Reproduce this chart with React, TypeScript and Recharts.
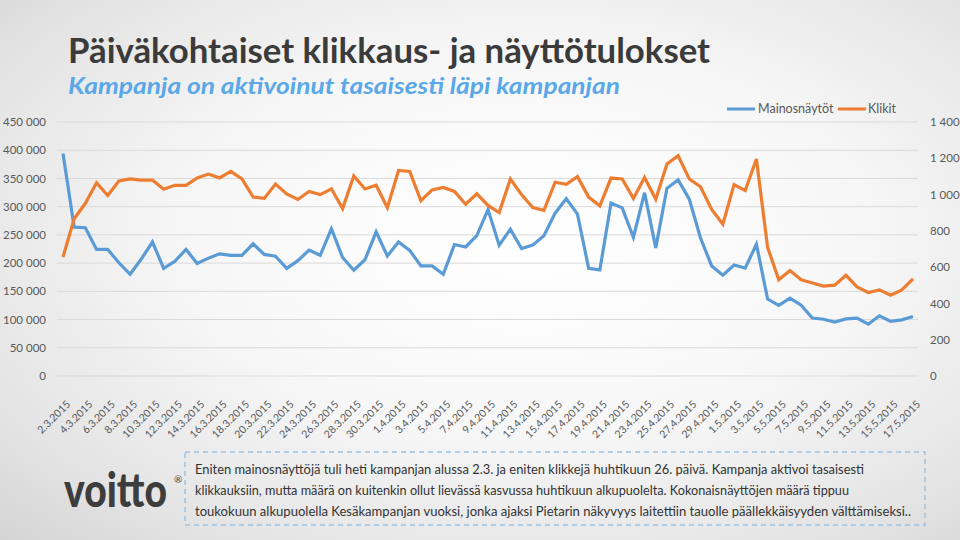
import { LineChart, Line, XAxis, YAxis, CartesianGrid, Legend } from 'recharts';

// päivät 2.3.2015 - 17.5.2015
const months = [
  { m: 3, from: 2, to: 31 },
  { m: 4, from: 1, to: 30 },
  { m: 5, from: 1, to: 17 },
];
const dates: string[] = [];
months.forEach(({ m, from, to }) => {
  for (let d = from; d <= to; d++) dates.push(`${d}.${m}.2015`);
});

const impressions = [
  394000, 263700, 262600, 224200, 224200, 200600, 180200, 207200, 237400, 190700,
  203300, 224200, 199500, 208800, 216400, 213800, 213800, 234100, 215400, 212100,
  190700, 204400, 223000, 213800, 261000, 209900, 187400, 206000, 255500, 212600,
  237400, 222500, 195000, 195000, 180200, 232900, 228600, 248900, 295000, 231900,
  259900, 225800, 231900, 248400, 288500, 314300, 286800, 190700, 187900, 306600,
  297900, 245600, 324700, 227000, 332500, 347300, 313200, 244500, 195000, 178500,
  196700, 191200, 233500, 136300, 125300, 138000, 125300, 102700, 100500, 95600,
  101100, 102700, 91800, 106600, 96700, 99400, 105500,
];

const clicks = [
  655, 867, 952, 1065, 995, 1075, 1086, 1080, 1080, 1029,
  1051, 1051, 1092, 1113, 1092, 1128, 1086, 986, 979, 1058,
  1004, 973, 1017, 1000, 1032, 923, 1103, 1031, 1051, 928,
  1133, 1127, 966, 1026, 1039, 1017, 947, 1004, 940, 901,
  1086, 1000, 928, 913, 1068, 1056, 1099, 986, 938, 1091,
  1086, 979, 1094, 974, 1168, 1214, 1086, 1043, 918, 837,
  1055, 1022, 1196, 709, 530, 581, 530, 513, 496, 501,
  555, 491, 460, 475, 445, 475, 535,
];

const leftTicks = [0, 50000, 100000, 150000, 200000, 250000, 300000, 350000, 400000, 450000];
const rightTicks = [0, 200, 400, 600, 800, 1000, 1200, 1400];

const noteLines = [
  'Eniten mainosnäyttöjä tuli heti kampanjan alussa 2.3. ja eniten klikkejä huhtikuun 26. päivä. Kampanja aktivoi tasaisesti',
  'klikkauksiin, mutta määrä on kuitenkin ollut lievässä kasvussa huhtikuun alkupuolelta. Kokonaisnäyttöjen määrä tippuu',
  'toukokuun alkupuolella Kesäkampanjan vuoksi, jonka ajaksi Pietarin näkyvyys laitettiin tauolle päällekkäisyyden välttämiseksi..',
];
const noteWidths = [669, 654, 716];

const BLUE = '#5b9bd5';
const ORANGE = '#ed7d31';
const FONT = 'Lato, "Open Sans", sans-serif';

const data = dates.map((date, i) => ({ date, Mainosnäytöt: impressions[i], Klikit: clicks[i] }));

const fmt = (v: number) => String(v).replace(/\B(?=(\d{3})+(?!\d))/g, ' ');

const DateTick = (props: any) => {
  const { x, y, payload } = props;
  const tx = x + 8;
  const ty = y + 27;
  return (
    <text x={tx} y={ty} transform={`rotate(-45 ${tx} ${ty})`} textAnchor="end" fontSize={10.5} fill="#595959" fontFamily={FONT}>
      {payload.value}
    </text>
  );
};

const LegendContent = () => (
  <svg width={180} height={16}>
    <line x1={0} y1={8} x2={28} y2={8} stroke={BLUE} strokeWidth={3} />
    <text x={31} y={12} fontSize={12.5} fill="#595959" fontFamily={FONT}>Mainosnäytöt</text>
    <line x1={111} y1={8} x2={139} y2={8} stroke={ORANGE} strokeWidth={3} />
    <text x={141} y={12} fontSize={12.5} fill="#595959" fontFamily={FONT}>Klikit</text>
  </svg>
);

export default function App() {
  return (
    <div
      style={{
        position: 'absolute',
        left: 0,
        top: 0,
        width: 960,
        height: 540,
        overflow: 'hidden',
        background: 'radial-gradient(ellipse at 55% 45%, #ffffff 0%, #f7f7f7 45%, #e4e4e4 80%, #d4d4d4 100%)',
        fontFamily: FONT,
      }}
    >
      <LineChart
        width={960}
        height={540}
        data={data}
        margin={{ top: 122, right: 0, bottom: 115, left: 0 }}
        style={{ position: 'absolute', left: 0, top: 0 }}
      >
        <CartesianGrid yAxisId="left" vertical={false} stroke="#d9d9d9" strokeWidth={1} />
        <XAxis
          dataKey="date"
          interval={1}
          height={30}
          tick={<DateTick />}
          tickLine={false}
          axisLine={false}
          tickSize={0}
          padding={{ left: 6, right: 5 }}
        />
        <YAxis
          yAxisId="left"
          width={57}
          domain={[0, 450000]}
          ticks={leftTicks}
          tickFormatter={fmt}
          tickLine={false}
          axisLine={false}
          tickSize={0}
          tickMargin={11}
          tick={{ fontSize: 11.5, fill: '#595959', fontFamily: FONT }}
        />
        <YAxis
          yAxisId="right"
          orientation="right"
          width={42}
          domain={[0, 1400]}
          ticks={rightTicks}
          tickFormatter={fmt}
          tickLine={false}
          axisLine={false}
          tickSize={0}
          tickMargin={12}
          tick={{ fontSize: 11.5, fill: '#595959', fontFamily: FONT, textAnchor: 'start' }}
        />
        <Legend
          content={<LegendContent />}
          wrapperStyle={{ position: 'absolute', left: 727, top: 101, width: 180 }}
        />
        <Line
          yAxisId="left"
          type="linear"
          dataKey="Mainosnäytöt"
          stroke={BLUE}
          strokeWidth={3.2}
          dot={false}
          isAnimationActive={false}
        />
        <Line
          yAxisId="right"
          type="linear"
          dataKey="Klikit"
          stroke={ORANGE}
          strokeWidth={3.2}
          dot={false}
          isAnimationActive={false}
        />
      </LineChart>

      <svg width={960} height={540} style={{ position: 'absolute', left: 0, top: 0, pointerEvents: 'none' }}>
        <text x={68} y={63} fontSize={35} fontWeight={700} fill="#3b3b3b" fontFamily={FONT} textLength={642} lengthAdjust="spacingAndGlyphs">
          Päiväkohtaiset klikkaus- ja näyttötulokset
        </text>
        <text x={68} y={94} fontSize={23} fontWeight={700} fontStyle="italic" fill="#5aa8e8" fontFamily={FONT} textLength={552} lengthAdjust="spacingAndGlyphs">
          Kampanja on aktivoinut tasaisesti läpi kampanjan
        </text>

        {/* logo */}
        <g transform="translate(64 507) scale(1 1.22)">
          <text x={0} y={0} fontSize={39} fontWeight={900} fill="#3d3d3d" fontFamily={FONT}>
            voitto
          </text>
        </g>
        <text x={174} y={483} fontSize={10} fill="#3d3d3d" fontFamily={FONT}>®</text>

        <rect x={185} y={452} width={740} height={73} fill="none" stroke="#9dc3e6" strokeWidth={1.5} strokeDasharray="5 4" />
        {noteLines.map((line, i) => (
          <text
            key={i}
            x={195}
            y={474 + i * 21}
            fontSize={13.2}
            fill="#333333"
            fontFamily={FONT}
            textLength={noteWidths[i]}
            lengthAdjust="spacingAndGlyphs"
          >
            {line}
          </text>
        ))}
      </svg>
    </div>
  );
}
